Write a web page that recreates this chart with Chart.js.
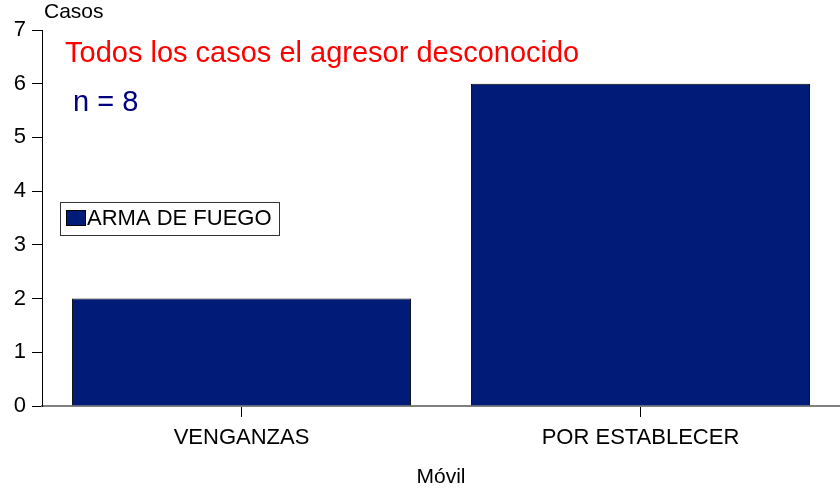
<!DOCTYPE html>
<html>
<head>
<meta charset="utf-8">
<script src="https://cdn.jsdelivr.net/npm/chart.js@4"></script>
<style>
  html, body { margin: 0; padding: 0; background: #fff; }
  #wrap { width: 840px; height: 494px; }
</style>
</head>
<body>
<div id="wrap"><canvas id="chart" width="840" height="494"></canvas></div>
<script>
// datos
const categorias = ["VENGANZAS", "POR ESTABLECER"];
const casos = [2, 6];
const serie = "ARMA DE FUEGO";
const titulo = "Todos los casos el agresor desconocido";
const nota = "n = 8";
const tituloY = "Casos";
const tituloX = "Móvil";

const FONT = "'Liberation Sans', Arial, sans-serif";

// textos y leyenda dibujados sobre el lienzo
const extras = {
  id: "extras",
  afterDraw(chart) {
    const ctx = chart.ctx;
    ctx.save();
    ctx.textBaseline = "middle";
    ctx.textAlign = "left";

    ctx.fillStyle = "#000";
    ctx.font = "21px " + FONT;
    ctx.fillText(tituloY, 44, 12);

    ctx.fillStyle = "#ff0000";
    ctx.font = "29px " + FONT;
    ctx.fillText(titulo, 65, 54);

    ctx.fillStyle = "#000080";
    ctx.font = "29px " + FONT;
    ctx.fillText(nota, 73, 103);

    // leyenda
    ctx.fillStyle = "#fff";
    ctx.fillRect(61, 203, 218, 32);
    ctx.strokeStyle = "#333";
    ctx.lineWidth = 1;
    ctx.strokeRect(60.5, 202.5, 219, 33);
    ctx.fillStyle = chart.data.datasets[0].backgroundColor;
    ctx.fillRect(66, 210, 20, 16);
    ctx.strokeStyle = "#000";
    ctx.strokeRect(66.5, 210.5, 19, 15);
    ctx.fillStyle = "#000";
    ctx.font = "22px " + FONT;
    ctx.fillText(chart.data.datasets[0].label, 87, 219);

    ctx.restore();
  }
};

new Chart(document.getElementById("chart"), {
  type: "bar",
  data: {
    labels: categorias,
    datasets: [{
      label: serie,
      data: casos,
      backgroundColor: "#001c78",
      borderColor: "#000",
      borderWidth: 1,
      categoryPercentage: 1,
      barPercentage: 0.85
    }]
  },
  options: {
    responsive: false,
    devicePixelRatio: 1,
    animation: false,
    layout: { padding: { top: 30, right: 0, left: 0, bottom: 0 } },
    plugins: {
      legend: { display: false },
      tooltip: { enabled: false }
    },
    scales: {
      x: {
        offset: true,
        afterFit(s) { s.height = 88; },
        grid: {
          offset: false,
          drawOnChartArea: false,
          drawTicks: true,
          tickLength: 11,
          color: "#000"
        },
        border: { color: "#808080", width: 2 },
        ticks: {
          color: "#000",
          font: { family: FONT, size: 22 },
          padding: 8
        },
        title: {
          display: true,
          text: tituloX,
          color: "#000",
          font: { family: FONT, size: 21 },
          padding: { top: 15 }
        }
      },
      y: {
        min: 0,
        max: 7,
        afterFit(s) { s.width = 42; },
        grid: {
          drawOnChartArea: false,
          drawTicks: true,
          tickLength: 10,
          color: "#000"
        },
        border: { color: "#000", width: 1 },
        ticks: {
          stepSize: 1,
          color: "#000",
          font: { family: FONT, size: 22 },
          padding: 6
        }
      }
    }
  },
  plugins: [extras]
});
</script>
</body>
</html>
